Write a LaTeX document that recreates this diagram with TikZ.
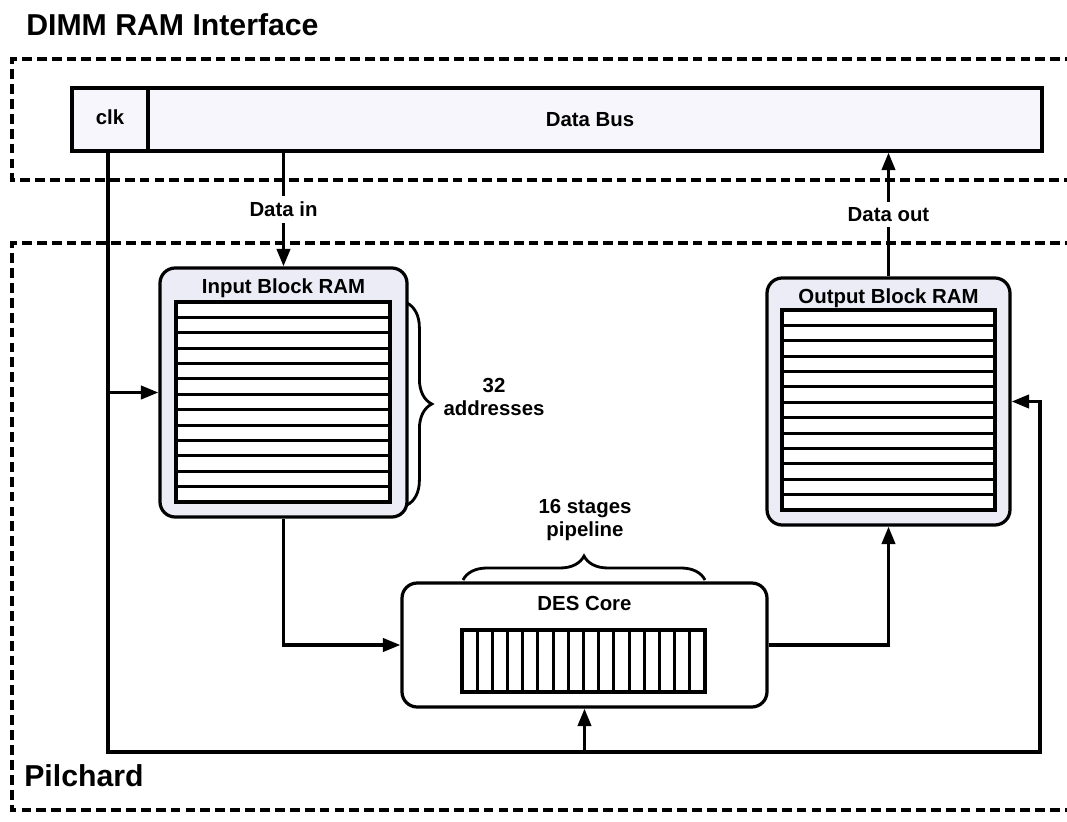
\documentclass[tikz,border=0pt]{standalone}
\usepackage{fontspec}
\setmainfont{Liberation Sans}
\usetikzlibrary{arrows.meta,fit,decorations.pathreplacing}
\definecolor{ramfill}{RGB}{236,236,247}
\definecolor{busfill}{RGB}{246,246,252}
\tikzset{
  wire/.style={line width=2.3pt,line join=miter},
  arr/.style={wire,-{Triangle[length=12.5pt,width=9.5pt]}},
  dashbox/.style={line width=2.8pt,dash pattern=on 7pt off 3.6pt},
  blockbox/.style={draw,line width=2.3pt,inner sep=0pt,rounded corners=0.38cm},
  busbox/.style={draw,line width=2.3pt,inner sep=0pt,fill=busfill},
  lbl/.style={font=\fontsize{14.5}{16.5}\selectfont\bfseries,inner sep=1pt,align=center},
  bigl/.style={font=\fontsize{21.5}{25}\selectfont\bfseries,inner sep=0pt},
  grid/.style={line width=2.2pt},
  bracestyle/.style={line width=2pt,decorate}
}
\begin{document}
\begin{tikzpicture}[x=0.025cm,y=-0.025cm]
\useasboundingbox (0,0) rectangle (1067,822);
\clip (0,0) rectangle (1067,822);
\fill[white] (0,0) rectangle (1067,822);

% titles
\node[bigl,anchor=west] (ttl) at (26,25) {DIMM RAM Interface};
\node[bigl,anchor=west] (pil) at (24,776) {Pilchard};

% dashed regions (open to the right)
\draw[dashbox] (1090,59) -- (12,59) -- (12,180) -- (1090,180);
\draw[dashbox] (1090,243) -- (12,243) -- (12,810) -- (1090,810);

% bus
\node[busbox,fit={(72,88)(148,151)}] (clk) {};
\node[busbox,fit={(148,88)(1042,151)}] (bus) {};
\node[lbl] (clkt) at (110,117) {clk};
\node[lbl] (bust) at (590,120) {Data Bus};

% input block RAM
\node[blockbox,fill=ramfill,fit={(160,268)(407,517)}] (inram) {};
\node[lbl] (intitle) at (283.5,288) {Input Block RAM};
\draw[grid,fill=white] (176,302) rectangle (390,502);
\foreach \i in {1,...,12} \draw[grid] (176,{302+\i*200/13}) -- (390,{302+\i*200/13});

% output block RAM
\node[blockbox,fill=ramfill,fit={(767,278)(1010,525)}] (outram) {};
\node[lbl] (outtitle) at (888.5,298) {Output Block RAM};
\draw[grid,fill=white] (782,310) rectangle (995,510);
\foreach \i in {1,...,12} \draw[grid] (782,{310+\i*200/13}) -- (995,{310+\i*200/13});

% DES core
\node[blockbox,fill=white,fit={(402,583)(767,707)}] (des) {};
\node[lbl] (destitle) at (584.5,603) {DES Core};
\draw[grid] (462,630) rectangle (705,692);
\foreach \i in {1,...,15} \draw[grid] ({462+\i*243/16},630) -- ({462+\i*243/16},692);

% braces
\draw[bracestyle,decoration={brace,amplitude=0.62cm}] (407,303) -- (407,505);
\node[lbl] (addr) at (494,397) {32\\addresses};
\draw[bracestyle,decoration={brace,amplitude=0.6cm}] (463,580) -- (705,580);
\node[lbl] (stages) at (585,520) {16 stages\\pipeline};

% bottom clock distribution
\coordinate (bl) at (108,752);
\coordinate (br) at (1040,752);
\draw[arr] (clk.south -| bl) -- (bl) -- (br) -- (br |- outram.east) -- (outram.east);
\draw[arr] (bl |- inram.west) -- (inram.west);
\draw[arr] (des.south |- bl) -- (des.south);

% data paths
\draw[arr] (inram.north |- bus.south) -- node[lbl,fill=white,inner sep=4pt] (din) {Data in} (inram.north);
\draw[arr] (outram.north) -- node[lbl,fill=white,inner sep=4pt] (dout) {Data out} (outram.north |- bus.south);
\draw[arr] (inram.south) |- (des.west);
\draw[arr] (des.east) -| (outram.south);
\end{tikzpicture}
\end{document}
